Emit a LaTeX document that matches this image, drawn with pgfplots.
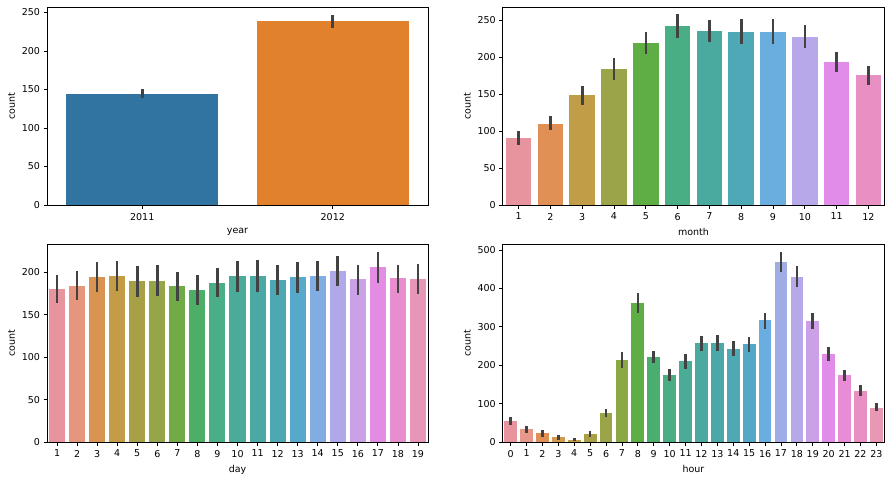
\documentclass[border=0pt]{standalone}
\usepackage{pgfplots}
\pgfplotsset{compat=1.18}
\usepackage{fontspec}
\setmainfont{DejaVu Sans}
\definecolor{errc}{RGB}{66,66,66}
\definecolor{yb}{RGB}{50,116,161}
\definecolor{yo}{RGB}{225,129,44}
\definecolor{h0}{RGB}{232,148,159}
\definecolor{h1}{RGB}{232,152,138}
\definecolor{h2}{RGB}{224,143,85}
\definecolor{h3}{RGB}{211,153,77}
\definecolor{h4}{RGB}{192,157,70}
\definecolor{h5}{RGB}{169,160,70}
\definecolor{h6}{RGB}{155,164,72}
\definecolor{h7}{RGB}{138,168,68}
\definecolor{h8}{RGB}{94,174,69}
\definecolor{h9}{RGB}{74,174,110}
\definecolor{h10}{RGB}{74,174,133}
\definecolor{h11}{RGB}{74,171,150}
\definecolor{h12}{RGB}{74,170,160}
\definecolor{h13}{RGB}{74,169,168}
\definecolor{h14}{RGB}{78,168,181}
\definecolor{h15}{RGB}{83,168,200}
\definecolor{h16}{RGB}{106,174,224}
\definecolor{h17}{RGB}{160,172,230}
\definecolor{h18}{RGB}{183,168,234}
\definecolor{h19}{RGB}{203,160,230}
\definecolor{h20}{RGB}{224,140,232}
\definecolor{h21}{RGB}{232,140,214}
\definecolor{h22}{RGB}{232,143,196}
\definecolor{h23}{RGB}{232,152,180}
\colorlet{d0}{h0}
\colorlet{d1}{h1!74!h2}
\colorlet{d2}{h2!47!h3}
\colorlet{d3}{h3!21!h4}
\colorlet{d4}{h5!95!h6}
\colorlet{d5}{h6!68!h7}
\colorlet{d6}{h7!42!h8}
\colorlet{d7}{h8!16!h9}
\colorlet{d8}{h10!89!h11}
\colorlet{d9}{h11!63!h12}
\colorlet{d10}{h12!37!h13}
\colorlet{d11}{h13!11!h14}
\colorlet{d12}{h15!84!h16}
\colorlet{d13}{h16!58!h17}
\colorlet{d14}{h17!32!h18}
\colorlet{d15}{h18!5!h19}
\colorlet{d16}{h20!79!h21}
\colorlet{d17}{h21!53!h22}
\colorlet{d18}{h22!26!h23}
\pgfplotsset{
  base/.style={
    scale only axis,
    anchor=south west,
    ybar, bar width=0.8, bar shift=0pt,
    ymin=0,
    axis line style={line width=0.8pt, black},
    tick align=outside,
    major tick length=3.5pt,
    tick style={line width=0.8pt, black},
    xtick pos=bottom, ytick pos=left,
    /pgf/number format/assume math mode=true,
    ticklabel style={font=\fontsize{9.5}{11}\selectfont, black},
    xticklabel style={yshift=-1pt},
    label style={font=\fontsize{9.5}{11}\selectfont, black},
    xlabel style={yshift=-1pt},
    ylabel={count},
    every axis plot/.append style={draw=none},
    yticklabel style={/pgf/number format/fixed},
  },
  eb/.style={error bars/.cd, y dir=both, y explicit, error mark=none,
    error bar style={line width=2.6pt, color=errc, line cap=rect}},
}
\newcommand{\bb}[5]{\addplot[fill=#1, eb] coordinates {(#2,#3) += (0,#4) -= (0,#5)};}
\begin{document}
\begin{tikzpicture}
\path[use as bounding box] (0pt,0pt) rectangle (891pt,480pt);
% year
\begin{axis}[base, at={(47pt,275pt)}, width=381pt, height=198pt,
  xmin=-0.5, xmax=1.5, ymax=257.0, xtick={0,1}, xticklabels={2011,2012},
  ytick={0,50,100,150,200,250}, xlabel={year}]
\bb{yb}{0}{144.2}{4.3}{4.2}
\bb{yo}{1}{238.6}{6.9}{6.6}
\end{axis}
% month
\begin{axis}[base, at={(502.7pt,275pt)}, width=381.6pt, height=198pt,
  xmin=-0.5, xmax=11.5, ymax=267.6, xtick={0,...,11}, xticklabels={1,2,3,4,5,6,7,8,9,10,11,12},
  ytick={0,50,100,150,200,250}, xlabel={month}]
\bb{h0}{0}{90.4}{7.6}{7.4}
\bb{h2}{1}{110.0}{9.0}{7.0}
\bb{h4}{2}{148.2}{10.8}{11.2}
\bb{h6}{3}{184.2}{12.8}{13.2}
\bb{h8}{4}{219.5}{12.5}{13.5}
\bb{h10}{5}{242.0}{14.0}{14.0}
\bb{h12}{6}{235.3}{13.2}{13.3}
\bb{h14}{7}{234.1}{15.4}{14.1}
\bb{h16}{8}{233.8}{15.7}{13.8}
\bb{h18}{9}{227.7}{14.3}{14.2}
\bb{h20}{10}{193.7}{11.8}{11.7}
\bb{h22}{11}{175.6}{10.9}{11.1}
\end{axis}
% day
\begin{axis}[base, at={(47pt,38pt)}, width=381pt, height=197.7pt,
  xmin=-0.5, xmax=18.5, ymax=233.0, xtick={0,...,18}, xticklabels={1,2,3,4,5,6,7,8,9,10,11,12,13,14,15,16,17,18,19},
  ytick={0,50,100,150,200}, xlabel={day}]
\bb{d0}{0}{180.3}{15.2}{14.8}
\bb{d1}{1}{183.9}{15.6}{14.9}
\bb{d2}{2}{194.7}{15.8}{16.2}
\bb{d3}{3}{195.5}{16.0}{16.0}
\bb{d4}{4}{189.8}{16.2}{17.3}
\bb{d5}{5}{189.8}{17.2}{16.3}
\bb{d6}{6}{183.8}{15.2}{16.3}
\bb{d7}{7}{179.0}{16.5}{16.0}
\bb{d8}{8}{187.9}{15.6}{15.4}
\bb{d9}{9}{195.2}{16.3}{16.7}
\bb{d10}{10}{195.7}{17.3}{17.2}
\bb{d11}{11}{190.7}{16.3}{15.9}
\bb{d12}{12}{194.7}{15.8}{17.5}
\bb{d13}{13}{195.8}{15.7}{16.2}
\bb{d14}{14}{201.5}{16.0}{16.0}
\bb{d15}{15}{191.9}{15.1}{17.1}
\bb{d16}{16}{205.9}{16.6}{16.9}
\bb{d17}{17}{192.9}{14.1}{15.7}
\bb{d18}{18}{192.0}{16.0}{16.0}
\end{axis}
% hour
\begin{axis}[base, at={(502.7pt,38pt)}, width=381.6pt, height=197.7pt,
  xmin=-0.5, xmax=23.5, ymax=514.8, xtick={0,...,23},
  ytick={0,100,200,300,400,500}, xlabel={hour}]
\bb{h0}{0}{55.1}{7.4}{8.1}
\bb{h1}{1}{33.9}{5.1}{5.9}
\bb{h2}{2}{22.9}{5.1}{5.4}
\bb{h3}{3}{11.8}{3.2}{3.8}
\bb{h4}{4}{6.4}{1.1}{1.1}
\bb{h5}{5}{19.8}{4.2}{4.3}
\bb{h6}{6}{76.3}{6.7}{6.8}
\bb{h7}{7}{213.1}{17.9}{17.1}
\bb{h8}{8}{362.8}{21.2}{22.8}
\bb{h9}{9}{221.8}{12.2}{12.8}
\bb{h10}{10}{175.1}{11.9}{13.1}
\bb{h11}{11}{210.7}{15.3}{16.7}
\bb{h12}{12}{256.5}{16.5}{16.5}
\bb{h13}{13}{257.8}{17.2}{17.8}
\bb{h14}{14}{243.4}{16.6}{16.4}
\bb{h15}{15}{254.3}{15.7}{16.3}
\bb{h16}{16}{316.4}{16.6}{18.4}
\bb{h17}{17}{468.8}{22.2}{22.8}
\bb{h18}{18}{430.9}{24.1}{22.9}
\bb{h19}{19}{315.3}{17.7}{17.3}
\bb{h20}{20}{228.5}{16.5}{14.5}
\bb{h21}{21}{173.4}{11.6}{11.4}
\bb{h22}{22}{133.6}{10.4}{10.6}
\bb{h23}{23}{89.5}{7.5}{5.5}
\end{axis}
\end{tikzpicture}
\end{document}
